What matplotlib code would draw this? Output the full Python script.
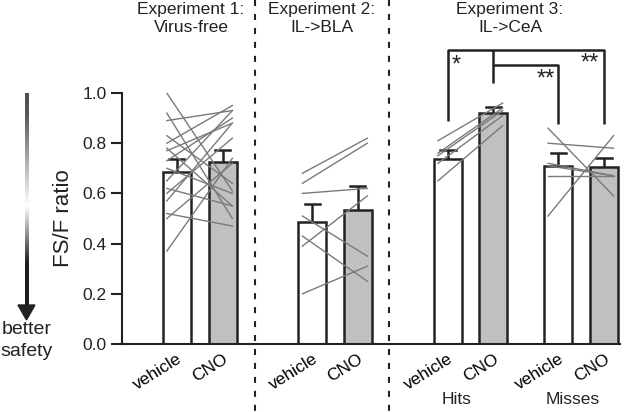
import numpy as np
import matplotlib
matplotlib.use("Agg")
import matplotlib.pyplot as plt
from matplotlib.patches import Polygon

plt.rcParams['font.family'] = ['Liberation Sans', 'DejaVu Sans']

# group means and SEM
conditions = ["vehicle", "CNO", "vehicle", "CNO", "vehicle", "CNO", "vehicle", "CNO"]
means = [0.684, 0.727, 0.488, 0.534, 0.739, 0.922, 0.710, 0.704]
sems = [0.054, 0.047, 0.070, 0.096, 0.034, 0.022, 0.049, 0.039]

# individual animals (vehicle -> CNO)
exp1_vehicle = [1.00, 0.92, 0.89, 0.80, 0.78, 0.77, 0.73, 0.62, 0.60, 0.57, 0.52, 0.50, 0.37, 0.70, 0.65, 0.83]
exp1_cno = [0.61, 0.50, 0.93, 0.95, 0.55, 0.88, 0.90, 0.55, 0.82, 0.88, 0.47, 0.72, 0.74, 0.60, 0.93, 0.64]
exp2_vehicle = [0.68, 0.64, 0.60, 0.51, 0.39, 0.43, 0.20]
exp2_cno = [0.82, 0.80, 0.62, 0.35, 0.59, 0.25, 0.31]
hits_vehicle = [0.81, 0.75, 0.76, 0.72, 0.65]
hits_cno = [0.96, 0.93, 0.94, 0.91, 0.87]
misses_vehicle = [0.86, 0.51, 0.80, 0.72, 0.71, 0.67]
misses_cno = [0.59, 0.83, 0.78, 0.67, 0.67, 0.67]

headers = ["Experiment 1:\nVirus-free", "Experiment 2:\nIL->BLA", "Experiment 3:\nIL->CeA"]
subgroups = ["Hits", "Misses"]
stars = ["*", "**", "**"]

# layout (units = one bar width)
pos = [0.0, 1.64, 4.84, 6.46, 9.68, 11.29, 13.61, 15.25]
fills = ["white", "#c0c0c0"] * 4
dark = "#222222"

fig = plt.figure(figsize=(6.31, 4.12), dpi=100)
W, H = 631, 412
ax = fig.add_axes([122 / W, 1 - 344 / H, (620 - 122) / W, (344 - 93) / H])

ax.bar(pos, means, width=1.0, color=fills, edgecolor=dark, linewidth=1.8, zorder=2)
for x, m, s in zip(pos, means, sems):
    ax.plot([x, x], [m, m + s], color=dark, lw=1.8, zorder=2, solid_capstyle="butt")
    ax.plot([x - 0.27, x + 0.27], [m + s, m + s], color=dark, lw=1.8, zorder=2)

pairs = [(0, exp1_vehicle, exp1_cno), (2, exp2_vehicle, exp2_cno),
         (4, hits_vehicle, hits_cno), (6, misses_vehicle, misses_cno)]
for i, veh, cno in pairs:
    for a, b in zip(veh, cno):
        ax.plot([pos[i] - 0.36, pos[i + 1] + 0.34], [a, b], color="#7a7a7a", lw=1.0, zorder=3)

# significance brackets
bk = dict(color=dark, lw=1.8, clip_on=False, solid_capstyle="butt")
ax.plot([pos[4], pos[4], pos[7], pos[7]], [0.889, 1.17, 1.17, 0.878], **bk)
ax.plot([pos[5], pos[5]], [1.17, 1.04], **bk)
ax.plot([pos[5], pos[6], pos[6]], [1.11, 1.11, 0.878], **bk)

ax.set_xlim(-1.96, 15.82)
ax.set_ylim(0, 1.0)
ax.set_yticks([0, 0.2, 0.4, 0.6, 0.8, 1.0])
ax.set_yticklabels(["0.0", "0.2", "0.4", "0.6", "0.8", "1.0"])
ax.tick_params(axis="y", length=8, width=1.5, labelsize=12.5, pad=3, colors=dark)
ax.set_xticks(pos)
ax.set_xticklabels(conditions, rotation=32, ha="right", rotation_mode="anchor", fontsize=12.5)
ax.tick_params(axis="x", length=0, pad=5)
for sp in ["top", "right"]:
    ax.spines[sp].set_visible(False)
for sp in ["left", "bottom"]:
    ax.spines[sp].set_linewidth(1.5)
    ax.spines[sp].set_color(dark)
ax.set_ylabel("FS/F ratio", fontsize=16, labelpad=6, color=dark)
ax.patch.set_alpha(0)

# overlay in pixel coords
ov = fig.add_axes([0, 0, 1, 1], zorder=-1)
ov.set_xlim(0, W)
ov.set_ylim(H, 0)
ov.axis("off")
for xd in [255, 389]:
    ov.plot([xd, xd], [0, H], color=dark, lw=1.5, linestyle=(0, (2.9, 3.8)))
for xc, t in zip([191, 322, 510], headers):
    ov.text(xc, 2, t, ha="center", va="top", fontsize=12.5, color=dark, linespacing=1.25)
ov.text(457, 400, subgroups[0], ha="center", va="center", fontsize=12.5, color=dark)
ov.text(573, 400, subgroups[1], ha="center", va="center", fontsize=12.5, color=dark)
for (xs, ys), s in zip([(456, 72), (546, 86), (590, 70)], stars):
    ov.text(xs, ys, s, ha="center", va="baseline", fontsize=17, color=dark)

# gradient arrow
t = np.linspace(0, 1, 200)
g = np.interp(t, [0, 0.1, 0.53, 0.8, 1.0], [0.3, 0.35, 1.0, 0.12, 0.12])
ov.imshow(np.repeat(g[:, None], 2, axis=1), cmap="gray", vmin=0, vmax=1,
          extent=[24.5, 28.5, 306, 93], aspect="auto", interpolation="bilinear")
ov.add_patch(Polygon([[18, 305], [35, 305], [26.5, 320]], closed=True, color=dark))
ov.set_xlim(0, W)
ov.set_ylim(H, 0)
ov.text(27, 330, "better", ha="center", va="center", fontsize=14, color=dark)
ov.text(27, 352, "safety", ha="center", va="center", fontsize=14, color=dark)

fig.savefig("out.png", dpi=100)
